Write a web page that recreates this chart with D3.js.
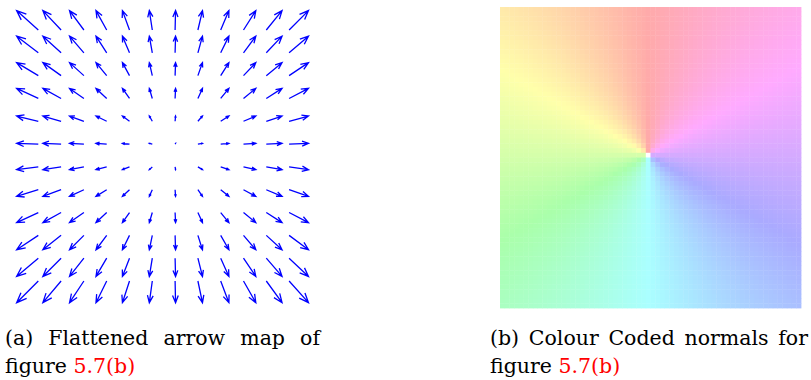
<!DOCTYPE html>
<html>
<head>
<meta charset="utf-8">
<script src="https://cdn.jsdelivr.net/npm/d3@7"></script>
<style>
  body { margin: 0; background: #fff; }
  svg { display: block; }
</style>
</head>
<body>
<svg id="fig" width="811" height="380"></svg>
<script>
// Quiver grid (12 x 12), vector components, in grid units
const gridCols = [0, 1, 2, 3, 4, 5, 6, 7, 8, 9, 10, 11];
const gridRows = [0, 1, 2, 3, 4, 5, 6, 7, 8, 9, 10, 11];
// horizontal component per column (positive = right)
const uByCol = [-0.95, -0.80, -0.63, -0.47, -0.31, -0.13, 0.02, 0.20, 0.36, 0.54, 0.69, 0.85];
// vertical component per row, top to bottom (positive = up)
const vByRow = [0.85, 0.73, 0.57, 0.44, 0.23, 0.03, -0.12, -0.29, -0.44, -0.63, -0.80, -0.95];

// Colour coded normals: 64 x 64 cells, hue by direction around the centre cell
const cellCount = 64;
const centreCell = 31;
const dirAngles = [0, 60, 120, 180, 240, 300, 360]; // degrees clockwise from up
const dirColours = ["#ffaaaa", "#ffaaff", "#aaaaff", "#aaffff", "#aaffaa", "#ffffaa", "#ffaaaa"];

// Captions
const capA1 = ["(a)", "Flattened", "arrow", "map", "of"];
const capB1 = ["(b)", "Colour", "Coded", "normals", "for"];
const capLine2 = "figure";
const capRef = "5.7(b)";

const svg = d3.select("#fig");

// ---- (a) arrow map ----
let x = d3.scaleLinear().domain([0, 11]).range([38.3, 289.1]);
let y = d3.scaleLinear().domain([0, 11]).range([30, 281]);
const alpha = 0.33, beta = 0.4;

let arrows = [];
gridRows.forEach(r => gridCols.forEach(c => arrows.push({ c: c, r: r, u: uByCol[c], v: vByRow[r] })));

svg.append("g").selectAll("path")
    .data(arrows)
    .enter().append("path")
    .attr("d", d => {
      let x0 = x(d.c), y0 = y(d.r);
      let x1 = x(d.c + d.u), y1 = y(d.r - d.v);
      let du = x1 - x0, dv = y1 - y0;
      let b1x = x1 - alpha * (du + beta * dv), b1y = y1 - alpha * (dv - beta * du);
      let b2x = x1 - alpha * (du - beta * dv), b2y = y1 - alpha * (dv + beta * du);
      return `M${x0},${y0}L${x1},${y1}M${b1x},${b1y}L${x1},${y1}L${b2x},${b2y}`;
    })
    .attr("fill", "none")
    .attr("stroke", "#0000ff")
    .attr("stroke-width", 1.3);

// ---- (b) colour coded normals ----
let idx = d3.range(cellCount);
let cx = d3.scaleBand().domain(idx).range([500, 801]);
let cy = d3.scaleBand().domain(idx).range([7, 308]);
let colour = d3.scaleLinear().domain(dirAngles).range(dirColours);

let cells = [];
idx.forEach(r => idx.forEach(c => cells.push({ c: c, r: r })));

svg.append("g").selectAll("rect")
    .data(cells)
    .enter().append("rect")
    .attr("x", d => cx(d.c))
    .attr("y", d => cy(d.r))
    .attr("width", cx.bandwidth() + 0.4)
    .attr("height", cy.bandwidth() + 0.4)
    .attr("fill", d => {
      let dx = d.c - centreCell, dy = d.r - centreCell;
      if (dx === 0 && dy === 0) return "#ffffff";
      let a = Math.atan2(dx, -dy) * 180 / Math.PI;
      if (a < 0) a += 360;
      return colour(a);
    });

// ---- captions ----
const font = "'DejaVu Serif', serif";
const fontSize = 20.5;

// justified first line: spread the words between left and right edges
function caption(words, left, right, base) {
  let texts = svg.append("g").selectAll("text")
      .data(words)
      .enter().append("text")
      .attr("y", base)
      .attr("font-family", font)
      .attr("font-size", fontSize)
      .attr("fill", "#000")
      .text(d => d);
  let widths = texts.nodes().map(n => n.getComputedTextLength());
  let gap = (right - left - d3.sum(widths)) / (words.length - 1);
  let pos = left;
  texts.attr("x", (d, i) => {
    let p = pos;
    pos += widths[i] + gap;
    return p;
  });
}
caption(capA1, 5, 320, 345);
caption(capB1, 490, 808, 345);

[5, 490].forEach(x0 => {
  let t = svg.append("text")
      .attr("x", x0).attr("y", 373)
      .attr("font-family", font)
      .attr("font-size", fontSize)
      .attr("fill", "#000");
  t.append("tspan").text(capLine2 + " ");
  t.append("tspan").attr("fill", "#ff0000").text(capRef);
});
</script>
</body>
</html>
